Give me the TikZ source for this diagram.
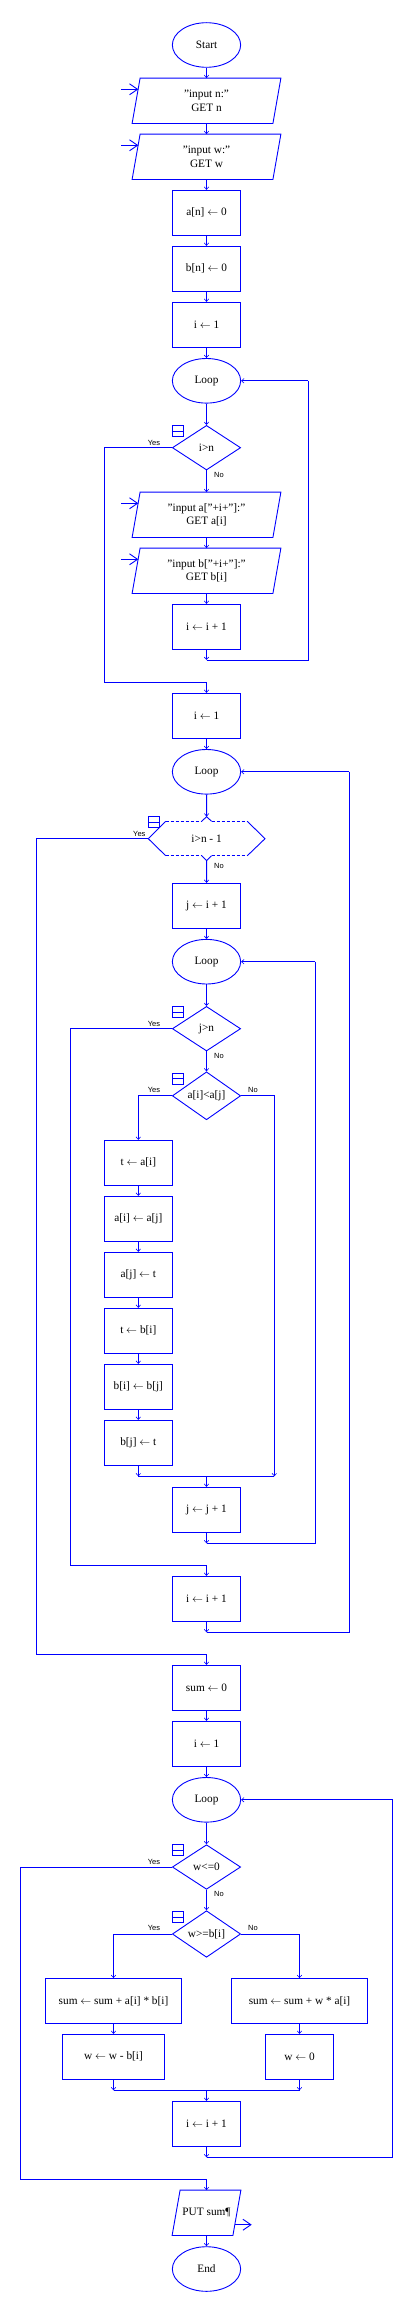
\documentclass[tikz,border=0pt]{standalone}
\usepackage{fontspec}
\setmainfont{Liberation Serif}
\newfontfamily\lblfont{Liberation Sans}
\usetikzlibrary{shapes.geometric,arrows.meta}
\definecolor{fcblue}{RGB}{0,0,255}
\tikzset{
  fc/.style={draw=fcblue, line width=0.9pt},
  txt/.style={font=\fontsize{11.3}{13.5}\selectfont, align=center},
  proc/.style={rectangle, fc, txt, minimum width=68.3pt, minimum height=45pt, inner sep=1pt},
  term/.style={ellipse, fc, txt, minimum width=68.3pt, minimum height=44.6pt, inner sep=0pt},
  dec/.style={diamond, fc, txt, minimum width=68.3pt, minimum height=44.6pt, inner sep=0pt},
  ionode/.style={rectangle, txt, minimum height=45pt, inner sep=0pt},
  conn/.style={draw=fcblue, line width=0.9pt},
  arr/.style={conn, -{Straight Barb[length=2.5pt,width=4.5pt,line width=0.6pt]}},
  bigarr/.style={conn, -{Straight Barb[length=8pt,width=11pt]}},
  lbl/.style={font=\lblfont\fontsize{7.5}{9}\selectfont, inner sep=0pt},
  icon/.pic={\draw[fc, line width=0.8pt] (0,0) rectangle (11.4,10.6); \draw[fc, line width=0.8pt] (0,5.3) -- (11.4,5.3);}
}
\begin{document}
\begin{tikzpicture}[x=1pt,y=-1pt]
\path[fill=white] (0,0) rectangle (409,2306);
\useasboundingbox (0,0) rectangle (409,2306);

% ---------- first block ----------
\node[term] (start) at (206.5,45) {Start};
\node[ionode, minimum width=148.4pt] (in1) at (206.5,100.8) {"input n:"\\GET n};
\draw[fc] ([xshift=8pt]in1.north west) -- (in1.north east) -- ([xshift=-8pt]in1.south east) -- (in1.south west) -- cycle;
\node[ionode, minimum width=148.4pt] (in2) at (206.5,156.8) {"input w:"\\GET w};
\draw[fc] ([xshift=8pt]in2.north west) -- (in2.north east) -- ([xshift=-8pt]in2.south east) -- (in2.south west) -- cycle;
\node[proc] (an) at (206.5,212.8) {a[n] $\leftarrow$ 0};
\node[proc] (bn) at (206.5,268.8) {b[n] $\leftarrow$ 0};
\node[proc] (i1) at (206.5,324.8) {i $\leftarrow$ 1};
\node[term] (loop1) at (206.5,380.8) {Loop};
\node[dec] (d1) at (206.5,447.7) {i\textgreater n};
\node[ionode, minimum width=148.4pt] (ina) at (206.5,514.8) {"input a["+i+"]:"\\GET a[i]};
\draw[fc] ([xshift=8pt]ina.north west) -- (ina.north east) -- ([xshift=-8pt]ina.south east) -- (ina.south west) -- cycle;
\node[ionode, minimum width=148.4pt] (inb) at (206.5,570.8) {"input b["+i+"]:"\\GET b[i]};
\draw[fc] ([xshift=8pt]inb.north west) -- (inb.north east) -- ([xshift=-8pt]inb.south east) -- (inb.south west) -- cycle;
\node[proc] (inc1) at (206.5,626.8) {i $\leftarrow$ i + 1};
\node[proc] (i2) at (206.5,715.8) {i $\leftarrow$ 1};
\node[term] (loop2) at (206.5,771.8) {Loop};

% hexagon node
\node[rectangle, minimum width=116.7pt, minimum height=44pt, inner sep=0pt, txt] (hex) at (206.6,838.7) {i\textgreater n - 1};
\draw[fc] (148.3,838.7) -- (165.7,821.3);
\draw[fc] (247.3,821.3) -- (265,838.7) -- (247.3,855.7);
\draw[fc] (165.7,855.7) -- (148.3,838.7);
\draw[fc, dashed, dash pattern=on 3pt off 2pt] (165.7,821.3) -- (201.6,821.3);
\draw[fc, dashed, dash pattern=on 3pt off 2pt] (211.6,821.3) -- (247.3,821.3);
\draw[fc, dashed, dash pattern=on 3pt off 2pt] (165.7,855.7) -- (201.6,855.7);
\draw[fc, dashed, dash pattern=on 3pt off 2pt] (211.6,855.7) -- (247.3,855.7);
\draw[fc] (201.6,821.3) -- (206.6,816.7) -- (211.6,821.3);
\draw[fc] (201.6,855.7) -- (206.6,860.7) -- (211.6,855.7);

\node[proc] (j1) at (206.5,905.8) {j $\leftarrow$ i + 1};
\node[term] (loop3) at (206.5,961.7) {Loop};
\node[dec] (d2) at (206.5,1028.7) {j\textgreater n};
\node[dec] (d3) at (206.5,1095.8) {a[i]\textless a[j]};
\node[proc] (t1) at (138.3,1162.8) {t $\leftarrow$ a[i]};
\node[proc] (a1) at (138.3,1218.8) {a[i] $\leftarrow$ a[j]};
\node[proc] (a2) at (138.3,1274.8) {a[j] $\leftarrow$ t};
\node[proc] (t2) at (138.3,1330.8) {t $\leftarrow$ b[i]};
\node[proc] (b1) at (138.3,1386.8) {b[i] $\leftarrow$ b[j]};
\node[proc] (b2) at (138.3,1442.8) {b[j] $\leftarrow$ t};
\node[proc] (jinc) at (206.5,1509.8) {j $\leftarrow$ j + 1};
\node[proc] (iinc2) at (206.5,1598.8) {i $\leftarrow$ i + 1};
\node[proc] (sum0) at (206.5,1687.8) {sum $\leftarrow$ 0};
\node[proc] (i3) at (206.5,1743.8) {i $\leftarrow$ 1};
\node[term] (loop4) at (206.5,1799.8) {Loop};
\node[dec] (d4) at (206.5,1867) {w\textless=0};
\node[dec] (d5) at (206.5,1934) {w\textgreater=b[i]};
\node[proc, minimum width=136.4pt] (s1) at (113.5,2001) {sum $\leftarrow$ sum + a[i] * b[i]};
\node[proc, minimum width=136.4pt] (s2) at (299.5,2001) {sum $\leftarrow$ sum + w * a[i]};
\node[proc, minimum width=102.4pt] (w1) at (113.5,2056.8) {w $\leftarrow$ w - b[i]};
\node[proc] (w2) at (299.5,2056.8) {w $\leftarrow$ 0};
\node[proc] (iinc3) at (206.5,2123.8) {i $\leftarrow$ i + 1};
\node[ionode, minimum width=68.4pt] (put) at (206.5,2212.8) {PUT sum¶};
\draw[fc] ([xshift=8pt]put.north west) -- (put.north east) -- ([xshift=-8pt]put.south east) -- (put.south west) -- cycle;
\node[term] (end) at (206.5,2269) {End};

% icons
\pic at (172.3,425.7) {icon};
\pic at (148.3,816.7) {icon};
\pic at (172.3,1006.7) {icon};
\pic at (172.3,1073.3) {icon};
\pic at (172.3,1844.7) {icon};
\pic at (172.3,1911.7) {icon};

% labels
\node[lbl] (y1) at (154,442.7) {Yes};
\node[lbl] (n1) at (219,475) {No};
\node[lbl] (y2) at (139.3,834) {Yes};
\node[lbl] (n2) at (219,866) {No};
\node[lbl] (y3) at (154,1024) {Yes};
\node[lbl] (n3) at (219,1056) {No};
\node[lbl] (y4) at (154,1090) {Yes};
\node[lbl] (n4) at (253,1090) {No};
\node[lbl] (y5) at (154,1862) {Yes};
\node[lbl] (n5) at (219,1893.7) {No};
\node[lbl] (y6) at (154,1928) {Yes};
\node[lbl] (n6) at (253,1928) {No};

% coordinates
\coordinate (ia1s) at (121,89.3);   \coordinate (ia1e) at (138.3,89.3);
\coordinate (ia2s) at (121,145.3);  \coordinate (ia2e) at (138.3,145.3);
\coordinate (ia3s) at (121,503.3);  \coordinate (ia3e) at (138.3,503.3);
\coordinate (ia4s) at (121,559.3);  \coordinate (ia4e) at (138.3,559.3);
\coordinate (outs) at (235,2224.7); \coordinate (oute) at (251.7,2224.7);
\coordinate (m1) at (206.5,660);    \coordinate (r1) at (308.3,380.8);
\coordinate (yb1) at (104.7,682.3);
\coordinate (m3L) at (138.3,1476.3); \coordinate (m3R) at (274.3,1476.3); \coordinate (m3C) at (206.5,1476.3);
\coordinate (m4) at (206.5,1543.3); \coordinate (r3) at (315.3,961.7);
\coordinate (yb2) at (70.3,1565.3);
\coordinate (m5) at (206.5,1632.3); \coordinate (r2) at (349.3,771.8);
\coordinate (yb3) at (36.3,1654.3);
\coordinate (m6L) at (113.5,2090.3); \coordinate (m6R) at (299.5,2090.3); \coordinate (m6C) at (206.5,2090.3);
\coordinate (m7) at (206.5,2157.3); \coordinate (r4) at (392.7,1799.8);
\coordinate (yb4) at (20.7,2179.3);

% input/output arrows
\draw[bigarr] (ia1s) -- (ia1e);
\draw[bigarr] (ia2s) -- (ia2e);
\draw[bigarr] (ia3s) -- (ia3e);
\draw[bigarr] (ia4s) -- (ia4e);
\draw[bigarr] (outs) -- (oute);

% connectors
\draw[arr] (start) -- (in1);
\draw[arr] (in1) -- (in2);
\draw[arr] (in2) -- (an);
\draw[arr] (an) -- (bn);
\draw[arr] (bn) -- (i1);
\draw[arr] (i1) -- (loop1);
\draw[arr] (loop1) -- (d1);
\draw[arr] (d1) -- (ina);
\draw[arr] (ina) -- (inb);
\draw[arr] (inb) -- (inc1);
\draw[arr] (inc1) -- (m1);
\draw[conn] (m1) -| (r1);
\draw[arr] (r1) -- (loop1.east);
\draw[arr] (d1.west) -| (yb1) -| (i2.north);
\draw[arr] (i2) -- (loop2);
\draw[arr] (loop2) -- (hex.north);
\draw[arr] (hex.south) -- (j1);
\draw[arr] (j1) -- (loop3);
\draw[arr] (loop3) -- (d2);
\draw[arr] (d2) -- (d3);
\draw[arr] (d3.west) -| (t1.north);
\draw[arr] (d3.east) -| (m3R);
\draw[arr] (t1) -- (a1);
\draw[arr] (a1) -- (a2);
\draw[arr] (a2) -- (t2);
\draw[arr] (t2) -- (b1);
\draw[arr] (b1) -- (b2);
\draw[arr] (b2) -- (m3L);
\draw[conn] (m3L) -- (m3R);
\draw[arr] (m3C) -- (jinc);
\draw[arr] (jinc) -- (m4);
\draw[conn] (m4) -| (r3);
\draw[arr] (r3) -- (loop3.east);
\draw[arr] (d2.west) -| (yb2) -| (iinc2.north);
\draw[arr] (iinc2) -- (m5);
\draw[conn] (m5) -| (r2);
\draw[arr] (r2) -- (loop2.east);
\draw[arr] (hex.west) -| (yb3) -| (sum0.north);
\draw[arr] (sum0) -- (i3);
\draw[arr] (i3) -- (loop4);
\draw[arr] (loop4) -- (d4);
\draw[arr] (d4) -- (d5);
\draw[arr] (d5.west) -| (s1.north);
\draw[arr] (d5.east) -| (s2.north);
\draw[arr] (s1) -- (w1);
\draw[arr] (s2) -- (w2);
\draw[arr] (w1.south) -- (m6L);
\draw[arr] (w2.south) -- (m6R);
\draw[conn] (m6L) -- (m6R);
\draw[arr] (m6C) -- (iinc3);
\draw[arr] (iinc3) -- (m7);
\draw[conn] (m7) -| (r4);
\draw[arr] (r4) -- (loop4.east);
\draw[arr] (d4.west) -| (yb4) -| (put.north);
\draw[arr] (put) -- (end);
\end{tikzpicture}
\end{document}
